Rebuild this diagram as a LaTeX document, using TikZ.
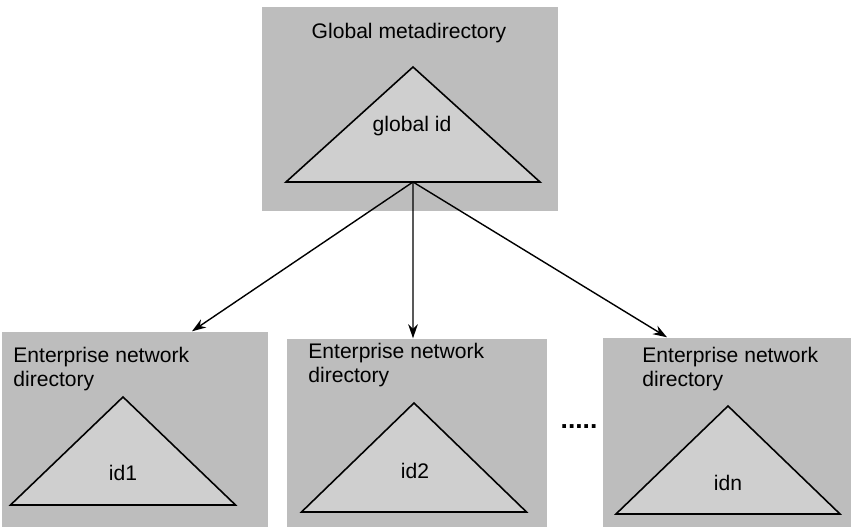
\documentclass[tikz,border=0pt]{standalone}
\usepackage{fontspec}
\setmainfont{Liberation Sans}
\usetikzlibrary{arrows.meta,calc}
\tikzset{every node/.style={font=\fontsize{12}{13.6}\selectfont},
	dirbox/.style={fill=black!26, draw=none, inner sep=0pt, anchor=south west},
	idtree/.style={draw=black, line width=0.9pt, fill=black!19, line join=miter},
	dirlabel/.style={align=left, anchor=north west, inner sep=0pt},
	link/.style={-{Stealth[length=8pt,width=5.5pt]}, line width=0.8pt}}
\newcommand{\dirbox}[4]{\node[dirbox, minimum width=#3cm, minimum height=#4cm] at (#1) (#2) {}}
\newcommand{\idtree}[4]{\draw[idtree] (#1) coordinate (#2-top) -- ++(#3,-#4) coordinate (#2-r) -- ++(-2*#3,0) coordinate (#2-l) -- cycle}

\begin{document}
\begin{tikzpicture}
			\useasboundingbox (0,0) rectangle (17.02,10.54);
			\dirbox{5.24,6.32}{g}{5.92}{4.08};
			\dirbox{0.04,0}{e1}{5.32}{3.90};
			\dirbox{5.74,0}{e2}{5.20}{3.76};
			\dirbox{12.06,0}{e3}{4.96}{3.78};
			\idtree{8.26,9.20}{gt}{2.54}{2.30};
			\idtree{2.46,2.60}{t1}{2.25}{2.16};
			\idtree{8.28,2.48}{t2}{2.25}{2.18};
			\idtree{14.56,2.42}{tn}{2.24}{2.16};
			\node (gname) at (8.18,9.88) {Global metadirectory};
			\node (gid) at (8.24,8.02) {global id};
			\node[dirlabel] (e1name) at (0.26,3.60) {Enterprise network\\directory};
			\node[dirlabel] (e2name) at (6.16,3.68) {Enterprise network\\directory};
			\node[dirlabel] (e3name) at (12.84,3.60) {Enterprise network\\directory};
			\node (id1) at (2.46,1.08) {id1};
			\node (id2) at (8.30,1.12) {id2};
			\node (idn) at (14.56,0.88) {idn};
			\node[font=\fontsize{15}{15}\selectfont\bfseries] (more) at (11.58,2.0) {.....};
			\coordinate (gbase) at ($(gt-l)!0.5!(gt-r)$);
			\draw[link] (gbase) -- ([xshift=3.80cm]e1.north west);
			\draw[link] (gbase) -- ([xshift=2.52cm]e2.north west);
			\draw[link] (gbase) -- ([xshift=1.28cm]e3.north west);
			%\node[fit=(e1)(e3), draw=black] {};
		\end{tikzpicture}
\end{document}
